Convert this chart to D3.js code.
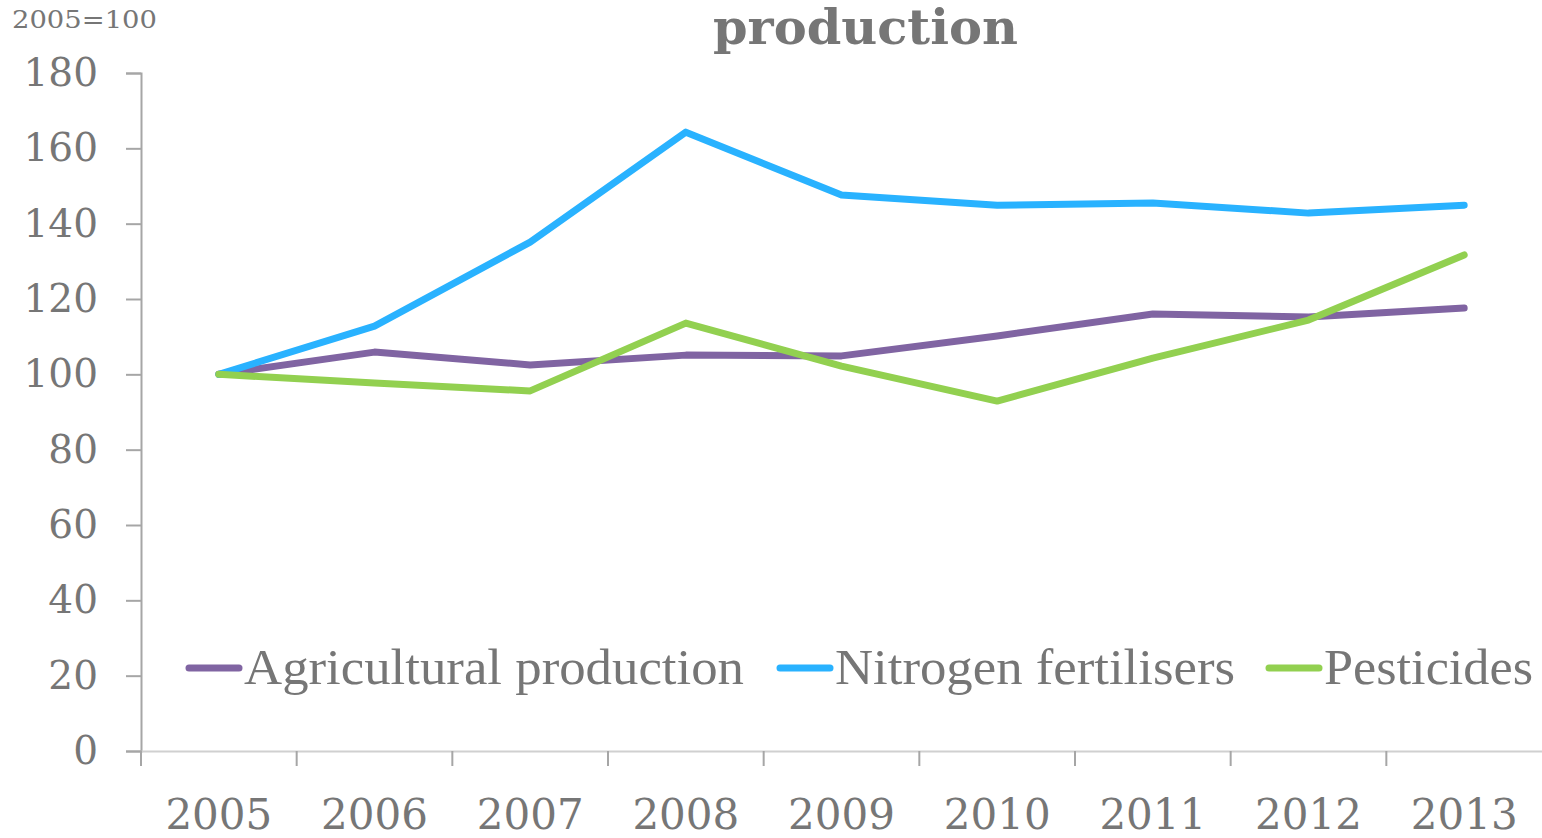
<!DOCTYPE html>
<html>
<head>
<meta charset="utf-8">
<script src="https://cdn.jsdelivr.net/npm/d3@7"></script>
<style>
  body { margin: 0; background: #fff; }
  text { fill: #767676; }
</style>
</head>
<body>
<script>
var years = ["2005", "2006", "2007", "2008", "2009", "2010", "2011", "2012", "2013"];
var agricultural = [100, 105.9, 102.5, 105.1, 104.9, 110.2, 116.0, 115.2, 117.6];
var nitrogen = [100, 112.8, 135.1, 164.3, 147.6, 144.9, 145.5, 142.8, 144.9];
var pesticides = [100, 97.7, 95.6, 113.6, 102.2, 92.9, 104.3, 114.4, 131.7];
var yTicks = [0, 20, 40, 60, 80, 100, 120, 140, 160, 180];
var seriesNames = ["Agricultural production", "Nitrogen fertilisers", "Pesticides"];
var seriesColors = ["#8064a2", "#29b2ff", "#92d050"];

var series = [agricultural, nitrogen, pesticides];

var margin = {top: 73, right: 0, bottom: 87, left: 141}, width = 1542 - margin.left - margin.right, height = 838 - margin.top - margin.bottom;

var svg = d3.select("body")
    .append("svg")
    .attr("width", 1542)
    .attr("height", 838);

var g = svg.append("g")
    .attr("transform", "translate(" + margin.left + "," + margin.top + ")");

var x = d3.scaleBand()
    .range([0, 1401])
    .domain(years);

var y = d3.scaleLinear().domain([0, 180]).range([height, 0]);

// y axis
var yAxis = g.append("g")
    .call(d3.axisLeft(y).tickValues(yTicks).tickSize(15).tickPadding(28));
yAxis.select(".domain").attr("stroke", "#a6a6a6").attr("stroke-width", 2);
yAxis.selectAll(".tick line").attr("stroke", "#a6a6a6").attr("stroke-width", 2);
yAxis.selectAll("text")
    .style("font-family", "DejaVu Serif")
    .style("font-size", "39px")
    .attr("fill", "#767676");

// x axis
var xAxis = g.append("g")
    .attr("transform", "translate(0," + height + ")")
    .call(d3.axisBottom(x).tickSize(0).tickPadding(48));
xAxis.select(".domain").attr("stroke", "#d0d0d0").attr("stroke-width", 2);
xAxis.selectAll("text")
    .style("font-family", "DejaVu Serif")
    .style("font-size", "42px")
    .attr("fill", "#767676");

// band boundary ticks
var bounds = years.map(function(d) { return x(d); });
xAxis.selectAll("line.bound")
    .data(bounds)
    .enter()
    .append("line")
    .attr("class", "bound")
    .attr("x1", function(d) { return d; })
    .attr("x2", function(d) { return d; })
    .attr("y1", 0)
    .attr("y2", 15)
    .attr("stroke", "#a6a6a6")
    .attr("stroke-width", 2);

var line = d3.line()
    .x(function(d, i) { return x(years[i]) + x.bandwidth() / 2; })
    .y(function(d) { return y(d); });

series.forEach(function(s, k) {
    g.append("path")
        .datum(s)
        .attr("fill", "none")
        .attr("stroke", seriesColors[k])
        .attr("stroke-width", 7)
        .attr("stroke-linejoin", "round")
        .attr("stroke-linecap", "round")
        .attr("d", line);
});

// legend
var legendX = [186, 777, 1266];
var legendW = [500, 400, 209];
seriesNames.forEach(function(name, k) {
    svg.append("line")
        .attr("x1", legendX[k] + 3)
        .attr("x2", legendX[k] + 53)
        .attr("y1", 668)
        .attr("y2", 668)
        .attr("stroke", seriesColors[k])
        .attr("stroke-width", 7)
        .attr("stroke-linecap", "round");
    svg.append("text")
        .attr("x", legendX[k] + 58)
        .attr("y", 684)
        .attr("textLength", legendW[k])
        .attr("lengthAdjust", "spacingAndGlyphs")
        .style("font-family", "Liberation Serif")
        .style("font-size", "50px")
        .text(name);
});

// title and unit label
svg.append("text")
    .attr("x", 713)
    .attr("y", 44)
    .attr("textLength", 305)
    .attr("lengthAdjust", "spacingAndGlyphs")
    .style("font-family", "DejaVu Serif")
    .style("font-weight", "bold")
    .style("font-size", "48px")
    .text("production");

svg.append("text")
    .attr("x", 12)
    .attr("y", 28)
    .attr("textLength", 145)
    .attr("lengthAdjust", "spacingAndGlyphs")
    .style("font-family", "DejaVu Serif")
    .style("font-size", "25px")
    .text("2005=100");
</script>
</body>
</html>
